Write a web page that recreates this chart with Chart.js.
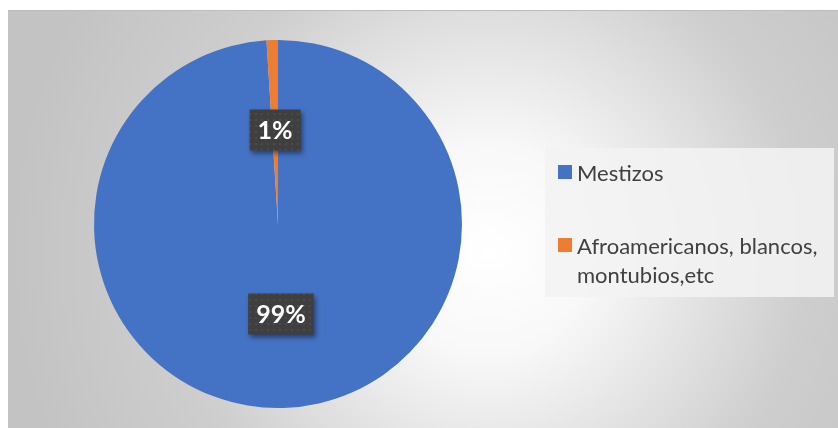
<!DOCTYPE html>
<html>
<head>
<meta charset="utf-8">
<script src="https://cdn.jsdelivr.net/npm/chart.js@4.4.1/dist/chart.umd.min.js"></script>
<style>
    html, body { margin: 0; padding: 0; background: #ffffff; }
    #wrap { position: absolute; left: 8px; top: 10px; width: 830px; height: 418px; }
    #legend {
        position: absolute; left: 537px; top: 138px; width: 289px; height: 149px;
        background: rgba(242, 242, 242, 0.88);
        font-family: Lato, "Open Sans", sans-serif; font-size: 22px; color: #404040;
    }
    .item { position: absolute; left: 13px; line-height: 29px; }
    .item .box { position: absolute; left: 0; top: 7px; width: 14px; height: 14px; }
    .item .txt { position: absolute; left: 19px; width: 262px; }
</style>
</head>
<body>
<div id="wrap">
    <canvas id="chart" width="830" height="418"></canvas>
    <div id="legend"></div>
</div>
<script>
'use strict';

const labels = ["Mestizos", "Afroamericanos, blancos, montubios,etc"];
const values = [99, 1];
const pctLabels = ["99%", "1%"];
const colors = ["#4472C4", "#ED7D31"];
const legendTops = [10, 83];

// soft radial grey background like the office chart style
const backgroundPlugin = {
    id: "bg",
    beforeDraw(chart) {
        const ctx = chart.ctx;
        const w = chart.width, h = chart.height;
        const g = ctx.createRadialGradient(480, 240, 0, 480, 240, 480);
        g.addColorStop(0, "#ffffff");
        g.addColorStop(0.22, "#f8f8f8");
        g.addColorStop(0.66, "#cecece");
        g.addColorStop(1, "#c3c3c3");
        ctx.save();
        ctx.fillStyle = g;
        ctx.fillRect(0, 0, w, h);
        ctx.fillStyle = "#bcbcbc";
        ctx.fillRect(0, 0, w, 1);
        ctx.restore();
    }
};

function dotPattern(ctx) {
    const c = document.createElement("canvas");
    c.width = 6; c.height = 6;
    const p = c.getContext("2d");
    p.fillStyle = "#3f3f3f";
    p.fillRect(0, 0, 6, 6);
    p.fillStyle = "#4b4b4b";
    p.fillRect(1, 1, 2, 2);
    return ctx.createPattern(c, "repeat");
}

const dataLabelPlugin = {
    id: "pctLabels",
    afterDatasetsDraw(chart) {
        const ctx = chart.ctx;
        const meta = chart.getDatasetMeta(0);
        const fill = dotPattern(ctx);
        ctx.save();
        ctx.font = "bold 25px Lato, 'Open Sans', sans-serif";
        ctx.textAlign = "center";
        ctx.textBaseline = "middle";
        meta.data.forEach((arc, i) => {
            const pos = arc.tooltipPosition();
            const text = pctLabels[i];
            const tw = ctx.measureText(text).width;
            const bw = tw + 16, bh = 41;
            const x = pos.x - bw / 2, y = pos.y - bh / 2 - 2;
            ctx.save();
            ctx.shadowColor = "rgba(0,0,0,0.45)";
            ctx.shadowBlur = 5;
            ctx.shadowOffsetX = 2;
            ctx.shadowOffsetY = 3;
            ctx.fillStyle = fill;
            ctx.fillRect(x, y, bw, bh);
            ctx.restore();
            ctx.fillStyle = "#ffffff";
            ctx.fillText(text, pos.x, y + bh / 2 + 1);
        });
        ctx.restore();
    }
};

new Chart(document.getElementById("chart"), {
    type: "pie",
    data: {
        labels: labels,
        datasets: [{
            data: values,
            backgroundColor: colors,
            borderWidth: 0
        }]
    },
    options: {
        responsive: false,
        animation: false,
        layout: { padding: { left: 86, right: 376, top: 30, bottom: 20 } },
        plugins: {
            legend: { display: false },
            tooltip: { enabled: false }
        }
    },
    plugins: [backgroundPlugin, dataLabelPlugin]
});

const legend = document.getElementById("legend");
labels.forEach((label, i) => {
    const item = document.createElement("div");
    item.className = "item";
    item.style.top = legendTops[i] + "px";
    item.innerHTML = '<span class="box" style="background:' + colors[i] + '"></span><span class="txt"></span>';
    item.querySelector(".txt").textContent = label;
    legend.appendChild(item);
});
</script>
</body>
</html>
